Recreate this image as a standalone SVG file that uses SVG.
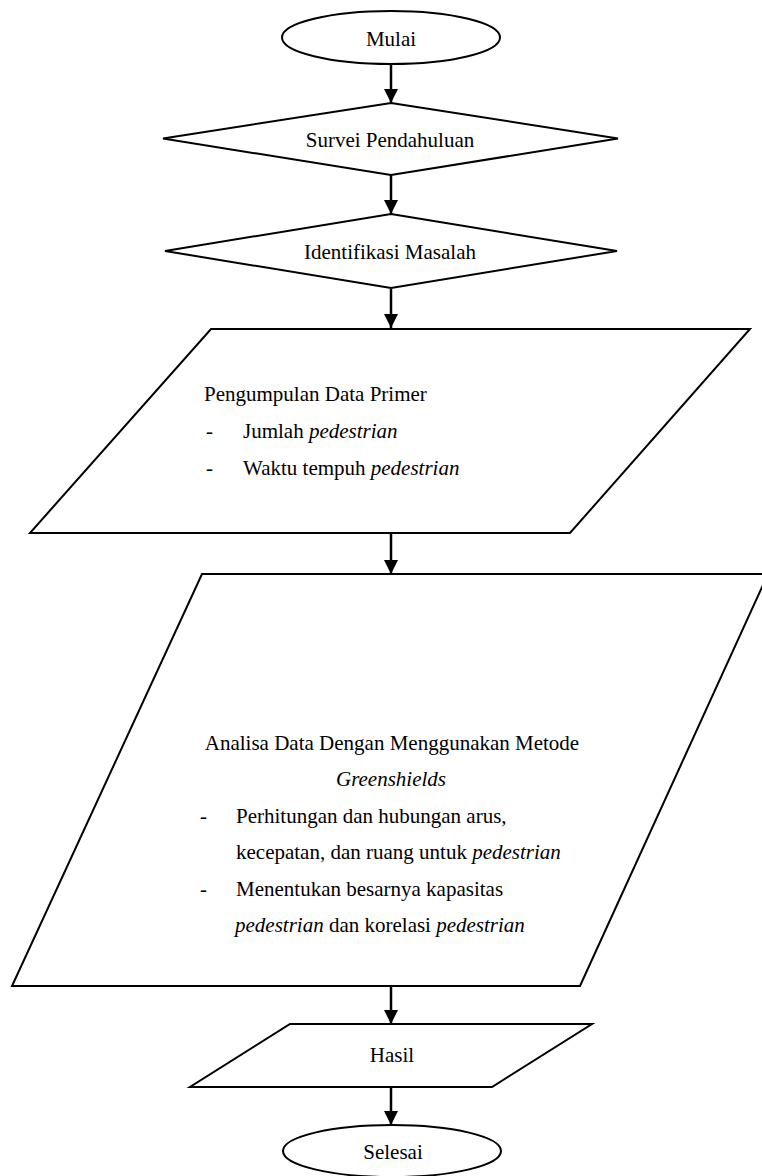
<svg xmlns="http://www.w3.org/2000/svg" width="762" height="1176" viewBox="0 0 762 1176">
  <style>
    .shape { fill: #ffffff; stroke: #000000; stroke-width: 2; }
    .lbl { font-family: 'Liberation Serif', 'Times New Roman', 'DejaVu Serif', serif; font-size: 21px; fill: #000000; }
    .mid { text-anchor: middle; }
    .it { font-style: italic; }
    .conn { stroke: #000000; stroke-width: 2.5; fill: none; }
  </style>
  <defs>
    <marker id="arrow" viewBox="0 0 14 14" refX="14" refY="7" markerWidth="14" markerHeight="14" markerUnits="userSpaceOnUse" orient="auto">
      <path d="M0,0 L14,7 L0,14 Z" fill="#000000"/>
    </marker>
  </defs>
  <rect x="0" y="0" width="762" height="1176" fill="#ffffff"/>

  <g id="connectors">
    <line class="conn" x1="391" y1="64" x2="391" y2="103" marker-end="url(#arrow)"/>
    <line class="conn" x1="391" y1="175" x2="391" y2="214" marker-end="url(#arrow)"/>
    <line class="conn" x1="391" y1="289" x2="391" y2="328" marker-end="url(#arrow)"/>
    <line class="conn" x1="391" y1="533" x2="391" y2="574" marker-end="url(#arrow)"/>
    <line class="conn" x1="391" y1="986" x2="391" y2="1024" marker-end="url(#arrow)"/>
    <line class="conn" x1="391" y1="1087" x2="391" y2="1125" marker-end="url(#arrow)"/>
  </g>

  <g id="mulai">
    <ellipse class="shape" cx="391" cy="37.5" rx="109" ry="26.5"/>
    <text class="lbl mid" x="391" y="46">Mulai</text>
  </g>

  <g id="survei">
    <polygon class="shape" points="391,103 618,138.5 391,175 163,138.5"/>
    <text class="lbl mid" x="390" y="147">Survei Pendahuluan</text>
  </g>

  <g id="identifikasi">
    <polygon class="shape" points="391,214 617,251 391,288 165,251"/>
    <text class="lbl mid" x="390" y="259">Identifikasi Masalah</text>
  </g>

  <g id="pengumpulan">
    <polygon class="shape" points="211,329 750,329 570,533 30,533"/>
    <text class="lbl" x="204" y="401">Pengumpulan Data Primer</text>
    <text class="lbl" x="206" y="438">-</text>
    <text class="lbl" x="243" y="438">Jumlah <tspan class="it">pedestrian</tspan></text>
    <text class="lbl" x="206" y="475">-</text>
    <text class="lbl" x="243" y="475">Waktu tempuh <tspan class="it">pedestrian</tspan></text>
  </g>

  <g id="analisa">
    <polygon class="shape" points="202,574 768,574 580,986 12,986"/>
    <text class="lbl mid" x="392" y="750">Analisa Data Dengan Menggunakan Metode</text>
    <text class="lbl mid it" x="391" y="786">Greenshields</text>
    <text class="lbl" x="200" y="823">-</text>
    <text class="lbl" x="236" y="823">Perhitungan dan hubungan arus,</text>
    <text class="lbl" x="236" y="859">kecepatan, dan ruang untuk <tspan class="it">pedestrian</tspan></text>
    <text class="lbl" x="200" y="896">-</text>
    <text class="lbl" x="236" y="896">Menentukan besarnya kapasitas</text>
    <text class="lbl" x="235" y="932"><tspan class="it">pedestrian</tspan> dan korelasi <tspan class="it">pedestrian</tspan></text>
  </g>

  <g id="hasil">
    <polygon class="shape" points="290,1024 592,1024 492,1087 190,1087"/>
    <text class="lbl mid" x="392" y="1062">Hasil</text>
  </g>

  <g id="selesai">
    <ellipse class="shape" cx="392" cy="1151" rx="109" ry="26"/>
    <text class="lbl mid" x="393" y="1159">Selesai</text>
  </g>
</svg>
